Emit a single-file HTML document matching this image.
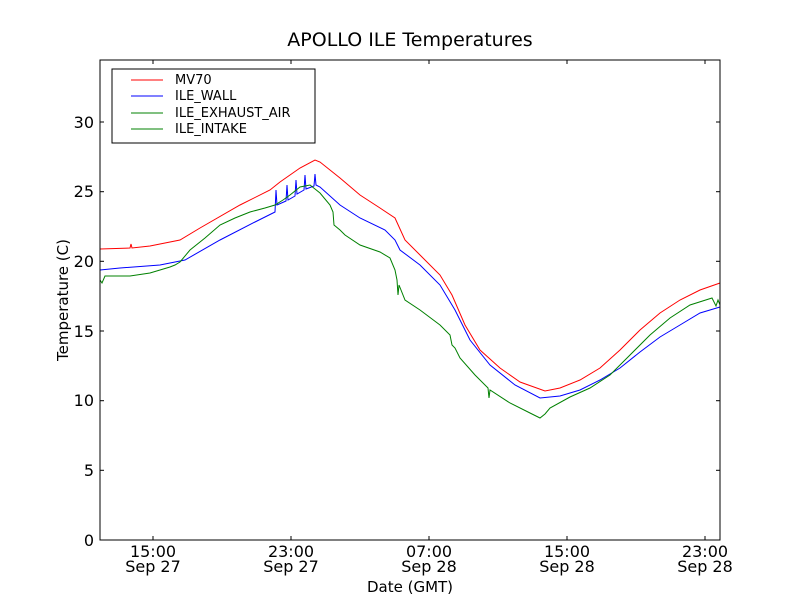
<!DOCTYPE html>
<html><head><meta charset="utf-8"><style>body{margin:0;background:#fff}svg{display:block}</style></head><body>
<svg width="800" height="600" xmlns="http://www.w3.org/2000/svg" font-family="'DejaVu Sans','Liberation Sans',sans-serif">
<rect width="800" height="600" fill="#fff"/>
<text x="410" y="46" font-size="19" text-anchor="middle">APOLLO ILE Temperatures</text>
<g fill="none" stroke-width="1">
<polyline stroke="#f00" points="100,249 130,248 131,244 132,248 150,246 180,240 200,228 240,205 270,190 280,182 290,175 300,168 315,160 320,162 340,178 360,195 380,208 395,218 405,240 420,255 440,275 452,295 465,325 480,350 500,368 520,382 545,391 560,388 580,380 600,368 620,350 640,330 660,313 680,300 700,290 720,283"/>
<polyline stroke="#00f" points="100,270 120,268 160,265 185,260 220,240 255,222 275,212 276,190 277,205 286,201 287,185 288,200 295,196 296,180 297,194 304,190 305,175 306,189 314,186 315,174 316,185 320,187 340,205 360,218 385,230 395,240 400,250 420,265 440,285 455,310 470,340 490,365 515,385 540,398 560,396 580,390 600,380 620,368 640,352 660,337 680,325 700,313 720,307"/>
<polyline stroke="#008000" points="100,280 102,283 105,276 130,276 150,273 160,270 170,267 175,265 180,262 190,250 205,238 220,225 235,218 250,212 265,208 275,205 283,200 290,195 300,187 310,185 320,193 330,205 333,212 334,225 340,230 345,235 360,245 380,252 390,258 395,270 397,280 398,295 399,285 405,300 420,310 440,325 450,335 452,345 455,348 460,358 475,375 488,388 489,398 490,390 510,403 530,413 540,418 545,414 550,408 570,397 590,388 610,375 630,355 650,335 670,318 690,305 712,298 716,306 718,300 720,305"/>
</g>
<rect x="100" y="60" width="620" height="480" fill="none" stroke="#000" stroke-width="1"/>
<g stroke="#000">
<line x1="100" y1="540" x2="104" y2="540"/><line x1="716" y1="540" x2="720" y2="540"/>
<line x1="100" y1="470.3" x2="104" y2="470.3"/><line x1="716" y1="470.3" x2="720" y2="470.3"/>
<line x1="100" y1="400.7" x2="104" y2="400.7"/><line x1="716" y1="400.7" x2="720" y2="400.7"/>
<line x1="100" y1="331" x2="104" y2="331"/><line x1="716" y1="331" x2="720" y2="331"/>
<line x1="100" y1="261.3" x2="104" y2="261.3"/><line x1="716" y1="261.3" x2="720" y2="261.3"/>
<line x1="100" y1="191.7" x2="104" y2="191.7"/><line x1="716" y1="191.7" x2="720" y2="191.7"/>
<line x1="100" y1="122" x2="104" y2="122"/><line x1="716" y1="122" x2="720" y2="122"/>
<line x1="153" y1="540" x2="153" y2="536"/><line x1="153" y1="60" x2="153" y2="64"/>
<line x1="291" y1="540" x2="291" y2="536"/><line x1="291" y1="60" x2="291" y2="64"/>
<line x1="429" y1="540" x2="429" y2="536"/><line x1="429" y1="60" x2="429" y2="64"/>
<line x1="567" y1="540" x2="567" y2="536"/><line x1="567" y1="60" x2="567" y2="64"/>
<line x1="705" y1="540" x2="705" y2="536"/><line x1="705" y1="60" x2="705" y2="64"/>
</g>
<g font-size="16" text-anchor="end">
<text x="94" y="546">0</text><text x="94" y="476">5</text><text x="94" y="406">10</text><text x="94" y="337">15</text><text x="94" y="267">20</text><text x="94" y="197">25</text><text x="94" y="128">30</text>
</g>
<g font-size="16" text-anchor="middle">
<text x="153" y="557">15:00</text><text x="153" y="572">Sep 27</text>
<text x="291" y="557">23:00</text><text x="291" y="572">Sep 27</text>
<text x="429" y="557">07:00</text><text x="429" y="572">Sep 28</text>
<text x="567" y="557">15:00</text><text x="567" y="572">Sep 28</text>
<text x="705" y="557">23:00</text><text x="705" y="572">Sep 28</text>
</g>
<text x="410" y="592" font-size="15" text-anchor="middle">Date (GMT)</text>
<text transform="translate(68,300) rotate(-90)" font-size="15" text-anchor="middle">Temperature (C)</text>
<rect x="112" y="69" width="203" height="74" fill="#fff" stroke="#000"/>
<g stroke-width="1">
<line x1="131" y1="80" x2="163" y2="80" stroke="#f00"/>
<line x1="131" y1="96" x2="163" y2="96" stroke="#00f"/>
<line x1="131" y1="113" x2="163" y2="113" stroke="#008000"/>
<line x1="131" y1="129" x2="163" y2="129" stroke="#008000"/>
</g>
<g font-size="13">
<text x="175" y="84">MV70</text><text x="175" y="100">ILE_WALL</text><text x="175" y="117">ILE_EXHAUST_AIR</text><text x="175" y="133">ILE_INTAKE</text>
</g>
</svg>
</body></html>
